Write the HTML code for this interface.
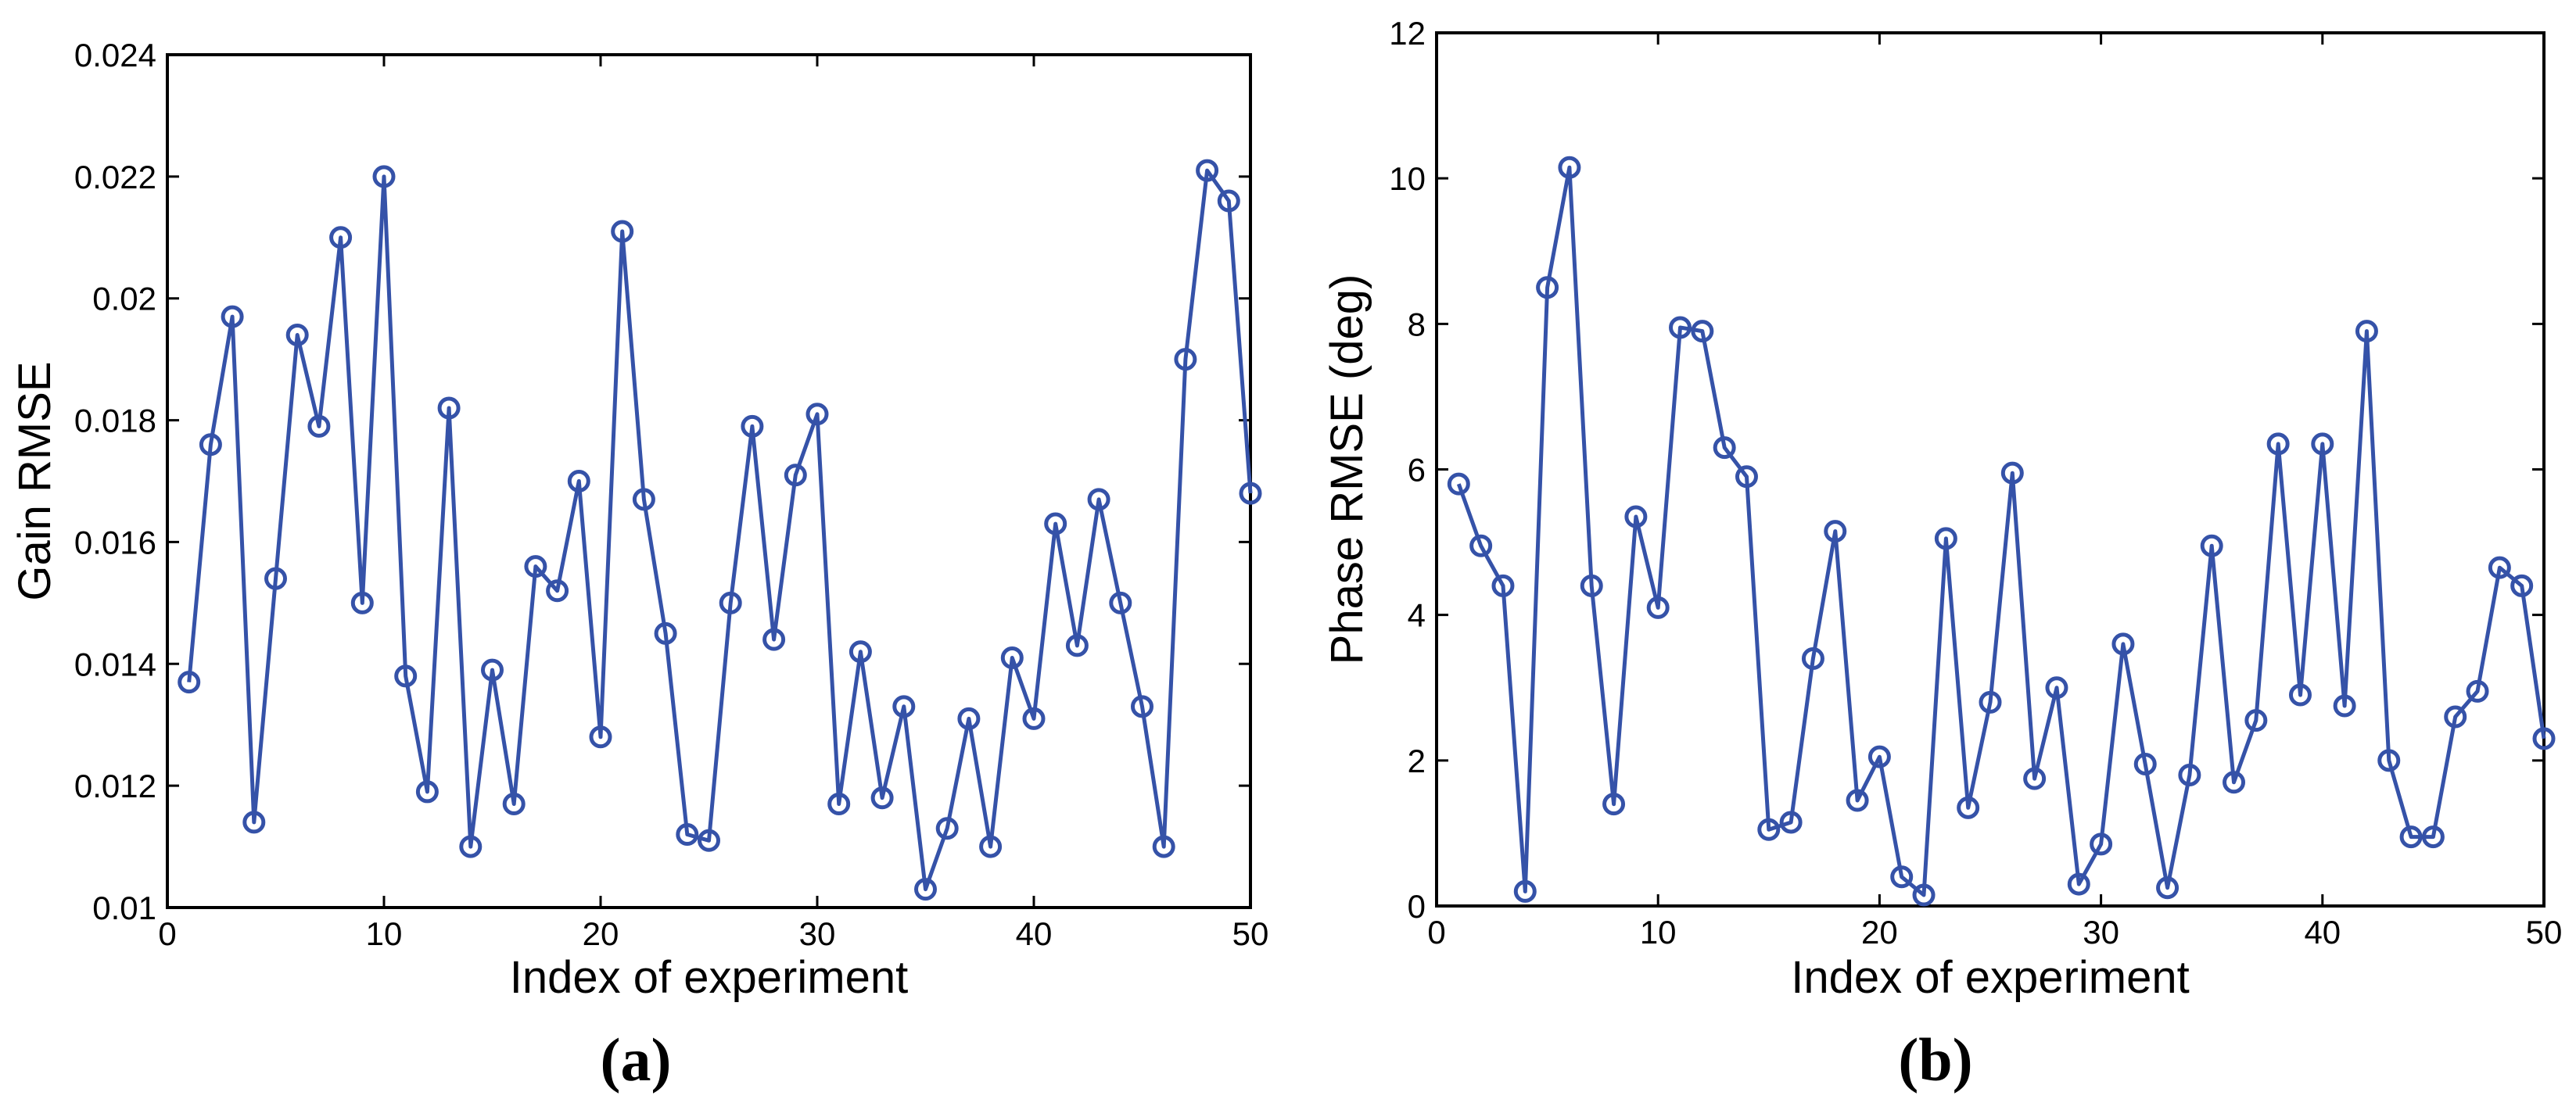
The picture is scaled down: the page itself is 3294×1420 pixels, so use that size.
<!DOCTYPE html>
<html><head><meta charset="utf-8"><style>
html,body{margin:0;padding:0;background:#fff}
svg{display:block}
text{font-family:"Liberation Sans",sans-serif;fill:#000}
.cap{font-family:"Liberation Serif",serif;font-weight:bold}
</style></head><body>
<svg id="fig" width="3294" height="1420" viewBox="0 0 3294 1420" xmlns="http://www.w3.org/2000/svg">
<g id="pa"></g>
<g id="pb"></g>
<text class="cap" x="813" y="1382" font-size="78" text-anchor="middle">(a)</text>
<text class="cap" x="2475" y="1382" font-size="78" text-anchor="middle">(b)</text>
</svg>
<script>
const xTicks = [0,10,20,30,40,50];
const gainValues = [0.0137,0.0176,0.0197,0.0114,0.0154,0.0194,0.0179,0.0210,0.0150,0.0220,
0.0138,0.0119,0.0182,0.0110,0.0139,0.0117,0.0156,0.0152,0.0170,0.0128,
0.0211,0.0167,0.0145,0.0112,0.0111,0.0150,0.0179,0.0144,0.0171,0.0181,
0.0117,0.0142,0.0118,0.0133,0.0103,0.0113,0.0131,0.0110,0.0141,0.0131,
0.0163,0.0143,0.0167,0.0150,0.0133,0.0110,0.0190,0.0221,0.0216,0.0168];
const gainTicks = [0.01,0.012,0.014,0.016,0.018,0.02,0.022,0.024];
const gainTickLabels = ["0.01","0.012","0.014","0.016","0.018","0.02","0.022","0.024"];
const phaseValues = [5.8,4.95,4.4,0.2,8.5,10.15,4.4,1.4,5.35,4.1,
7.95,7.9,6.3,5.9,1.05,1.15,3.4,5.15,1.45,2.05,
0.4,0.15,5.05,1.35,2.8,5.95,1.75,3.0,0.3,0.85,
3.6,1.95,0.25,1.8,4.95,1.7,2.55,6.35,2.9,6.35,
2.75,7.9,2.0,0.95,0.95,2.6,2.95,4.65,4.4,2.3];
const phaseTicks = [0,2,4,6,8,10,12];
const phaseTickLabels = ["0","2","4","6","8","10","12"];

const NS = "http://www.w3.org/2000/svg";
function mk(parent, tag, attrs){
  const e = document.createElementNS(NS, tag);
  for (const k in attrs) e.setAttribute(k, attrs[k]);
  parent.appendChild(e);
  return e;
}
function drawChart(g, box, ymin, ymax, vals, yt, ytl, ylabel, ylabelX){
  const sx = v => box.l + (v - 0) / 50 * (box.r - box.l);
  const sy = v => box.b - (v - ymin) / (ymax - ymin) * (box.b - box.t);
  const frame = mk(g, 'rect', {x:box.l, y:box.t, width:box.r-box.l, height:box.b-box.t, fill:'none', stroke:'#000', 'stroke-width':4});
  
  
  xTicks.forEach(t => {
    const x = sx(t);
    const tk = mk(g, 'path', {d:`M${x} ${box.b}V${box.b-15}M${x} ${box.t}V${box.t+15}`, stroke:'#000', 'stroke-width':3});
    
    
    const lb = mk(g, 'text', {x:x, y:box.b+48, 'font-size':42, 'text-anchor':'middle'});
    lb.textContent = String(t);
    
    
  });
  yt.forEach((t, i) => {
    const y = sy(t);
    const tk = mk(g, 'path', {d:`M${box.l} ${y}H${box.l+15}M${box.r} ${y}H${box.r-15}`, stroke:'#000', 'stroke-width':3});
    
    
    const lb = mk(g, 'text', {x:box.l-14, y:y+15, 'font-size':42, 'text-anchor':'end'});
    lb.textContent = ytl[i];
    
    
  });
  const xl = mk(g, 'text', {x:box.l+(box.r-box.l)/2, y:1270, 'font-size':58, 'text-anchor':'middle'});
  xl.textContent = 'Index of experiment';
  
  
  const cy = (box.t + box.b) / 2;
  const yl = mk(g, 'text', {x:ylabelX, y:cy, 'font-size':58, 'text-anchor':'middle', transform:`rotate(-90 ${ylabelX} ${cy})`});
  yl.textContent = ylabel;
  
  
  const pts = vals.map((v, i) => `${sx(i+1).toFixed(1)},${sy(v).toFixed(1)}`).join(' ');
  const line = mk(g, 'polyline', {points:pts, fill:'none', stroke:'#3552a8', 'stroke-width':5, 'stroke-linejoin':'round'});
  
  
  vals.forEach((v, i) => {
    const c = mk(g, 'circle', {cx:sx(i+1), cy:sy(v), r:12, fill:'none', stroke:'#3552a8', 'stroke-width':5});
    
    
  });
}
drawChart(document.getElementById('pa'), {l:214, r:1599, t:70, b:1161}, 0.01, 0.024, gainValues, gainTicks, gainTickLabels, 'Gain RMSE', 64);
drawChart(document.getElementById('pb'), {l:1837, r:3253, t:42, b:1159}, 0, 12, phaseValues, phaseTicks, phaseTickLabels, 'Phase RMSE (deg)', 1742);
</script>
</body></html>
